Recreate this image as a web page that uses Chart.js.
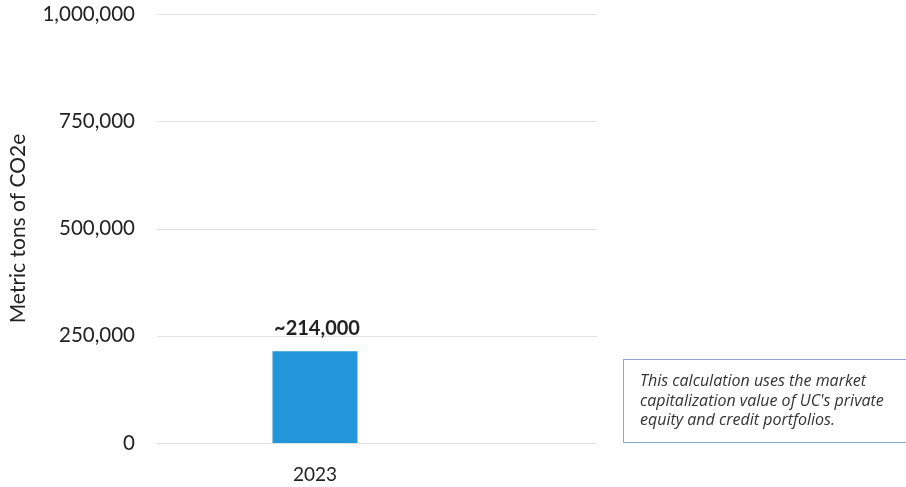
<!DOCTYPE html>
<html>
<head>
    <title>Financed Emissions</title>
    <script src="https://cdn.jsdelivr.net/npm/chart.js"></script>
    <style>
        body { margin: 0; background: #fff; }
        .chart-container {
            position: relative;
            width: 906px;
            height: 487px;
        }
        .note {
            position: absolute;
            left: 623px;
            top: 359px;
            width: 270px;
            height: 71px;
            padding: 11px 0 0 16px;
            border: 1px solid #8ea6d6;
            border-right: none;
            font-family: "Open Sans", sans-serif;
            font-style: italic;
            font-size: 16px;
            line-height: 19.5px;
            color: #333;
            white-space: nowrap;
            box-sizing: content-box;
        }
    </style>
</head>
<body>
    <div class="chart-container">
        <canvas id="emissionsChart" width="906" height="487"></canvas>
        <div class="note">This calculation uses the market<br>capitalization value of UC's private<br>equity and credit portfolios.</div>
    </div>

    <script>
        var years = ['2023'];
        var emissions = [214000];
        var barLabels = ['~214,000'];
        var yTicks = [0, 250000, 500000, 750000, 1000000];

        var gridRight = 597;

        // horizontal grid lines run past the plot, under the note
        var wideGrid = {
            id: 'wideGrid',
            beforeDatasetsDraw: function(chart) {
                var ctx = chart.ctx;
                var y = chart.scales.y;
                ctx.save();
                ctx.strokeStyle = '#e2e2e2';
                ctx.lineWidth = 1;
                y.ticks.forEach(function(t) {
                    var py = Math.round(y.getPixelForValue(t.value)) + 0.5;
                    ctx.beginPath();
                    ctx.moveTo(chart.chartArea.left, py);
                    ctx.lineTo(gridRight, py);
                    ctx.stroke();
                });
                ctx.restore();
            }
        };

        // writes the value text above each bar
        var valueLabels = {
            id: 'valueLabels',
            afterDatasetsDraw: function(chart) {
                var ctx = chart.ctx;
                var meta = chart.getDatasetMeta(0);
                ctx.save();
                ctx.font = 'bold 20px Lato';
                ctx.fillStyle = '#222';
                ctx.textAlign = 'center';
                ctx.textBaseline = 'bottom';
                meta.data.forEach(function(bar, i) {
                    ctx.fillText(barLabels[i], bar.x + 2, bar.y - 13);
                });
                ctx.restore();
            }
        };

        var ctx = document.getElementById('emissionsChart').getContext('2d');
        var emissionsChart = new Chart(ctx, {
            type: 'bar',
            data: {
                labels: years,
                datasets: [{
                    data: emissions,
                    backgroundColor: '#2196d9',
                    barPercentage: 0.269,
                    categoryPercentage: 1
                }]
            },
            options: {
                responsive: false,
                animation: false,
                layout: { padding: { top: 14, right: 433, left: 0, bottom: 0 } },
                plugins: {
                    legend: { display: false },
                    tooltip: { enabled: false }
                },
                scales: {
                    x: {
                        grid: { display: false, drawTicks: false },
                        border: { display: false },
                        ticks: { color: '#222', padding: 20, font: { family: 'Lato', size: 19 } },
                        afterFit: function(scale) { scale.height = 44; }
                    },
                    y: {
                        min: 0,
                        max: 1000000,
                        afterBuildTicks: function(scale) {
                            scale.ticks = yTicks.map(function(v) { return { value: v }; });
                        },
                        grid: { display: false, drawTicks: false },
                        border: { display: false },
                        ticks: {
                            color: '#222',
                            padding: 22,
                            font: { family: 'Lato', size: 20.5 },
                            callback: function(v) { return v.toLocaleString('en-US'); }
                        },
                        title: {
                            display: true,
                            text: 'Metric tons of CO2e',
                            color: '#222',
                            font: { family: 'Lato', size: 21 },
                            padding: { top: 6, bottom: 0 }
                        },
                        afterFit: function(scale) {
                            scale.width = 157;
                            scale.paddingTop = 0;
                            scale.paddingBottom = 0;
                        }
                    }
                }
            },
            plugins: [wideGrid, valueLabels]
        });
    </script>
</body>
</html>
